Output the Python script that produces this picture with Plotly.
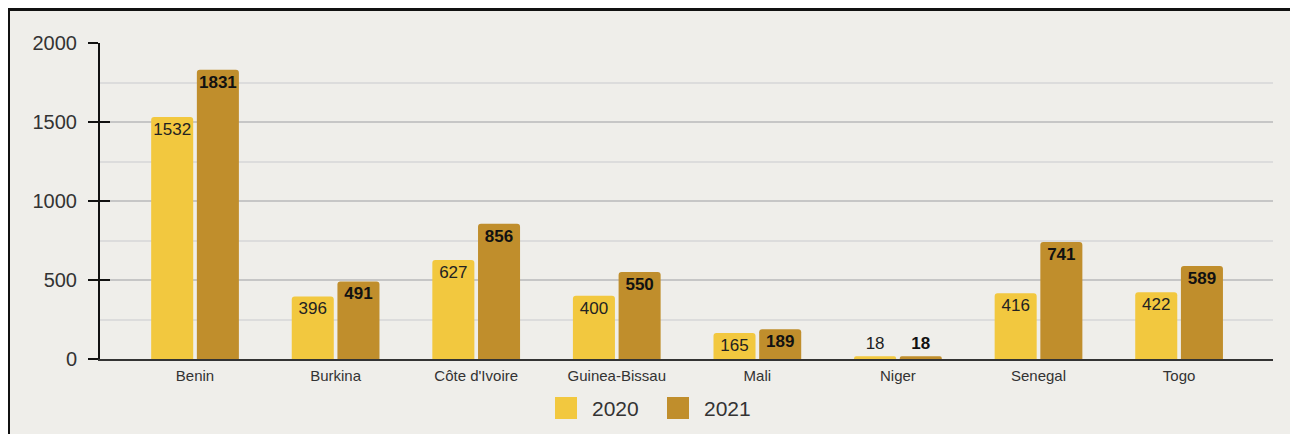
import plotly.graph_objects as go

# ---- data ----
countries = ["Benin", "Burkina", "Côte d'Ivoire", "Guinea-Bissau", "Mali", "Niger", "Senegal", "Togo"]
series_names = ["2020", "2021"]
values_2020 = [1532, 396, 627, 400, 165, 18, 416, 422]
values_2021 = [1831, 491, 856, 550, 189, 18, 741, 589]
y_ticks = [0, 500, 1000, 1500, 2000]

# ---- layout constants (page pixels; the page body has an 8px margin) ----
OFF = 8
W, H = 1298 - OFF, 434 - OFF
PLOT_X0, PLOT_X1, PLOT_Y0, PLOT_Y1 = 100, 1273, 43, 359   # page coords
L, T = PLOT_X0 - OFF, PLOT_Y0 - OFF
R, B = W - (PLOT_X1 - OFF), H - (PLOT_Y1 - OFF)
PW, PH = W - L - R, H - T - B

def px_x(p):
    return (p - OFF - L) / PW

def px_y(p):
    return 1 - (p - OFF - T) / PH

C2020 = "#F2C83F"
C2021 = "#C08E2C"
BG = "#EFEEEA"
FONT = "Liberation Sans, Arial, sans-serif"

fig = go.Figure()
fig.add_trace(go.Bar(
    x=countries, y=values_2020, name=series_names[0],
    marker=dict(color=C2020, line=dict(width=0)),
    text=[str(v) for v in values_2020], textposition="auto",
    insidetextanchor="end", textangle=0, constraintext="none",
    insidetextfont=dict(family=FONT, size=17, color="#222222"),
    outsidetextfont=dict(family=FONT, size=17, color="#222222"),
    cliponaxis=False, showlegend=False,
))
fig.add_trace(go.Bar(
    x=countries, y=values_2021, name=series_names[1],
    marker=dict(color=C2021, line=dict(width=0)),
    text=["<b>%d</b>" % v for v in values_2021], textposition="auto",
    insidetextanchor="end", textangle=0, constraintext="none",
    insidetextfont=dict(family=FONT, size=17, color="#111111"),
    outsidetextfont=dict(family=FONT, size=17, color="#111111"),
    cliponaxis=False, showlegend=False,
))
# invisible trace on the overlay axis so it renders inner ticks
fig.add_trace(go.Scatter(x=[countries[0]], y=[0], yaxis="y2", mode="markers",
                         marker=dict(opacity=0), showlegend=False, hoverinfo="skip"))

fig.update_layout(
    width=W, height=H,
    margin=dict(l=L, r=R, t=T, b=B, pad=0),
    paper_bgcolor=BG, plot_bgcolor=BG,
    barmode="group", bargap=0.35, bargroupgap=0.08, barcornerradius=3,
    font=dict(family=FONT, color="#333333"),
    xaxis=dict(
        type="category", range=[-0.676, 7.668],
        showline=True, linecolor="#333333", linewidth=2,
        showgrid=False, ticks="", tickfont=dict(size=15, color="#333333"),
        ticklabelstandoff=2,
    ),
    yaxis=dict(
        range=[0, 2000], tickvals=y_ticks,
        showline=True, linecolor="#111111", linewidth=2,
        ticks="outside", ticklen=10, tickwidth=2, tickcolor="#111111",
        tickfont=dict(size=20, color="#333333"), ticklabelstandoff=7,
        showgrid=True, gridcolor="#C6C6C6", gridwidth=2,
        minor=dict(dtick=250, showgrid=True, gridcolor="#DCDCDC", gridwidth=1.5),
        zeroline=False,
    ),
    yaxis2=dict(
        overlaying="y", range=[0, 2000], tickvals=y_ticks,
        ticks="inside", ticklen=10, tickwidth=2, tickcolor="#111111",
        showticklabels=False, showgrid=False, showline=False, zeroline=False,
    ),
)

shapes = []
# black frame
shapes.append(dict(type="rect", xref="paper", yref="paper",
                   x0=px_x(8.5), x1=px_x(1295.5), y0=px_y(9.5), y1=px_y(450),
                   fillcolor="rgba(0,0,0,0)", line=dict(color="#111111", width=3), layer="above"))
# legend squares
legend_items = [(555, C2020, series_names[0]), (667, C2021, series_names[1])]
annotations = []
for x0, col, name in legend_items:
    shapes.append(dict(type="rect", xref="paper", yref="paper",
                       x0=px_x(x0), x1=px_x(x0 + 22), y0=px_y(397), y1=px_y(419),
                       fillcolor=col, line=dict(width=0), layer="above"))
    annotations.append(dict(xref="paper", yref="paper", x=px_x(x0 + 35), y=px_y(408),
                            xanchor="left", yanchor="middle", showarrow=False,
                            text=name, font=dict(family=FONT, size=21, color="#333333")))
fig.update_layout(shapes=shapes, annotations=annotations)

fig.write_html("out.html")
